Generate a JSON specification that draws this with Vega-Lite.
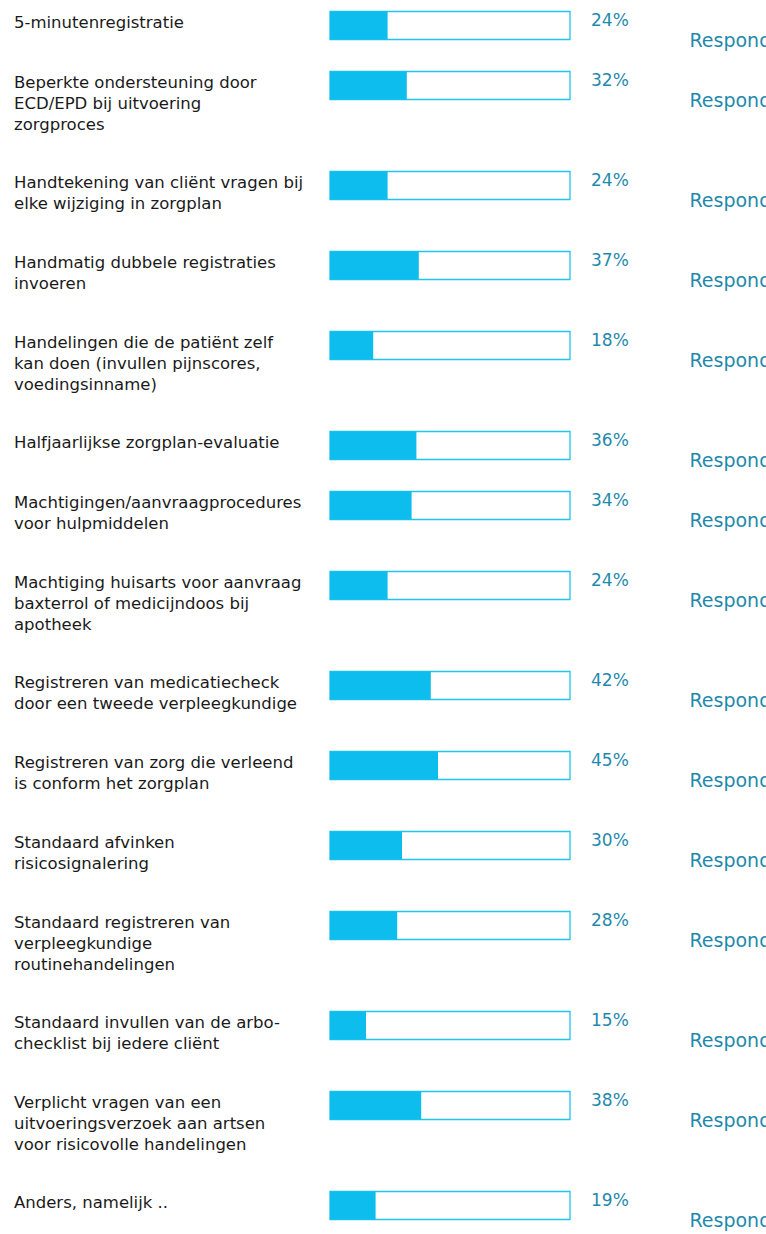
{
  "$schema": "https://vega.github.io/schema/vega-lite/v6.json",
  "padding": {"left": 14, "top": 0, "right": 0, "bottom": 0},
  "autosize": {"type": "pad"},
  "background": "white",
  "config": {"view": {"stroke": null}, "font": "DejaVu Sans"},
  "data": {"values": [
    {"order": 1, "label": ["5-minutenregistratie"], "pct": 0.24, "resp": "Respondenten"},
    {"order": 2, "label": ["Beperkte ondersteuning door", "ECD/EPD bij uitvoering", "zorgproces"], "pct": 0.32, "resp": "Respondenten"},
    {"order": 3, "label": ["Handtekening van cliënt vragen bij", "elke wijziging in zorgplan"], "pct": 0.24, "resp": "Respondenten"},
    {"order": 4, "label": ["Handmatig dubbele registraties", "invoeren"], "pct": 0.37, "resp": "Respondenten"},
    {"order": 5, "label": ["Handelingen die de patiënt zelf", "kan doen (invullen pijnscores,", "voedingsinname)"], "pct": 0.18, "resp": "Respondenten"},
    {"order": 6, "label": ["Halfjaarlijkse zorgplan-evaluatie"], "pct": 0.36, "resp": "Respondenten"},
    {"order": 7, "label": ["Machtigingen/aanvraagprocedures", "voor hulpmiddelen"], "pct": 0.34, "resp": "Respondenten"},
    {"order": 8, "label": ["Machtiging huisarts voor aanvraag", "baxterrol of medicijndoos bij", "apotheek"], "pct": 0.24, "resp": "Respondenten"},
    {"order": 9, "label": ["Registreren van medicatiecheck", "door een tweede verpleegkundige"], "pct": 0.42, "resp": "Respondenten"},
    {"order": 10, "label": ["Registreren van zorg die verleend", "is conform het zorgplan"], "pct": 0.45, "resp": "Respondenten"},
    {"order": 11, "label": ["Standaard afvinken", "risicosignalering"], "pct": 0.30, "resp": "Respondenten"},
    {"order": 12, "label": ["Standaard registreren van", "verpleegkundige", "routinehandelingen"], "pct": 0.28, "resp": "Respondenten"},
    {"order": 13, "label": ["Standaard invullen van de arbo-", "checklist bij iedere cliënt"], "pct": 0.15, "resp": "Respondenten"},
    {"order": 14, "label": ["Verplicht vragen van een", "uitvoeringsverzoek aan artsen", "voor risicovolle handelingen"], "pct": 0.38, "resp": "Respondenten"},
    {"order": 15, "label": ["Anders, namelijk .."], "pct": 0.19, "resp": "Respondenten"}
  ]},
  "transform": [
    {"calculate": "40 + 20 * length(datum.label)", "as": "rowh"},
    {"window": [{"op": "sum", "field": "rowh", "as": "cum"}], "sort": [{"field": "order", "order": "ascending"}], "frame": [null, 0]},
    {"calculate": "datum.cum - datum.rowh + 11.5", "as": "top"},
    {"calculate": "datum.top + 28", "as": "bottom"},
    {"calculate": "0", "as": "start"},
    {"calculate": "1", "as": "full"}
  ],
  "spacing": 0,
  "bounds": "flush",
  "hconcat": [
    {
      "width": 315.5,
      "height": 1234,
      "mark": {"type": "text", "align": "left", "baseline": "top", "dy": 3, "fontSize": 16.5, "lineHeight": 21, "color": "#1a1a1a", "font": "DejaVu Sans"},
      "encoding": {
        "x": {"value": 0},
        "y": {"field": "top", "type": "quantitative", "scale": {"domain": [0, 1234], "reverse": true, "nice": false, "zero": false}, "axis": null},
        "text": {"field": "label", "type": "nominal"}
      }
    },
    {
      "spacing": 119.5,
      "bounds": "flush",
      "hconcat": [
        {
          "width": 240,
          "height": 1234,
          "layer": [
            {
              "mark": {"type": "rect", "fill": "white", "stroke": "#22c4f0", "strokeWidth": 1.3},
              "encoding": {
                "x": {"field": "start", "type": "quantitative", "scale": {"domain": [0, 1], "nice": false, "zero": false}, "axis": null},
                "x2": {"field": "full"},
                "y": {"field": "top", "type": "quantitative", "scale": {"domain": [0, 1234], "reverse": true, "nice": false, "zero": false}, "axis": null},
                "y2": {"field": "bottom"}
              }
            },
            {
              "mark": {"type": "rect", "fill": "#0dbdee"},
              "encoding": {
                "x": {"field": "start", "type": "quantitative"},
                "x2": {"field": "pct"},
                "y": {"field": "top", "type": "quantitative"},
                "y2": {"field": "bottom"}
              }
            },
            {
              "mark": {"type": "text", "align": "left", "baseline": "alphabetic", "dx": 21, "dy": 14.5, "fontSize": 17, "color": "#1f89ad", "font": "DejaVu Sans"},
              "encoding": {
                "x": {"field": "full", "type": "quantitative"},
                "y": {"field": "top", "type": "quantitative"},
                "text": {"field": "pct", "type": "quantitative", "format": ".0%"}
              }
            }
          ]
        },
        {
          "width": 77,
          "height": 1234,
          "mark": {"type": "text", "align": "left", "baseline": "alphabetic", "dy": 35.8, "fontSize": 19, "color": "#1f89ad", "clip": true, "font": "DejaVu Sans"},
          "encoding": {
            "x": {"value": 0},
            "y": {"field": "top", "type": "quantitative", "scale": {"domain": [0, 1234], "reverse": true, "nice": false, "zero": false}, "axis": null},
            "text": {"field": "resp", "type": "nominal"}
          }
        }
      ]
    }
  ]
}
